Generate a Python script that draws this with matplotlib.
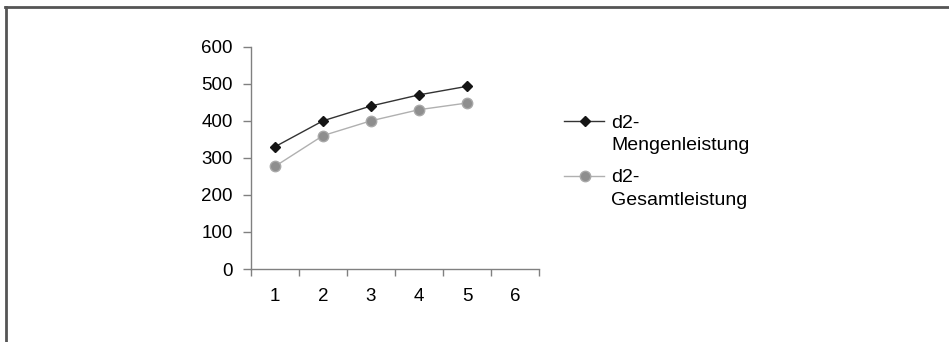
import matplotlib
matplotlib.use("Agg")
import matplotlib.pyplot as plt
from matplotlib.lines import Line2D

categories = [1, 2, 3, 4, 5, 6]
x_points = [1, 2, 3, 4, 5]
mengen = [330, 400, 440, 470, 493]
gesamt = [277, 360, 400, 430, 448]
labels = ["d2-\nMengenleistung", "d2-\nGesamtleistung"]
yticks = [0, 100, 200, 300, 400, 500, 600]

plt.rcParams['font.family'] = ['Liberation Sans', 'DejaVu Sans']

fig = plt.figure(figsize=(9.49, 3.42), dpi=100)
ax = fig.add_axes([251/949, 73/342, (539-251)/949, (269-46.7)/342])

black_style = dict(color='#333333', lw=1, marker='D', ms=5.5, mfc='#151515', mec='#151515')
gray_style = dict(color='#b0b0b0', lw=1, marker='o', ms=7.5, mfc='#8e8e8e', mec='#a8a8a8')

ax.plot(x_points, gesamt, zorder=3, **gray_style)
ax.plot(x_points, mengen, zorder=4, **black_style)

ax.set_xlim(0.5, 6.5)
ax.set_ylim(0, 600)
ax.set_yticks(yticks)
ax.set_xticks([c - 0.5 for c in categories] + [6.5])
ax.set_xticklabels([])
ax.set_xticks(categories, minor=True)
ax.set_xticklabels([str(c) for c in categories], minor=True)
ax.tick_params(axis='x', which='minor', length=0, pad=14, labelsize=13.5)
ax.tick_params(axis='x', which='major', length=5, width=1, color='#808080')
ax.tick_params(axis='y', length=6, width=1, color='#808080', pad=7, labelsize=13.5)
for s in ['top', 'right']:
    ax.spines[s].set_visible(False)
for s in ['left', 'bottom']:
    ax.spines[s].set_color('#808080')
    ax.spines[s].set_linewidth(1)

def fx(px):
    return px / 949
def fy(py):
    return 1 - py / 342

# legend drawn in figure coordinates
for (ly, style, lab, ty) in [(121, black_style, labels[0], 134.5),
                              (176, gray_style, labels[1], 189)]:
    ln = {k: v for k, v in style.items() if k not in ('marker', 'ms', 'mfc', 'mec')}
    fig.add_artist(Line2D([fx(564), fx(604)], [fy(ly), fy(ly)], **ln))
    fig.add_artist(Line2D([fx(585)], [fy(ly)], lw=0, marker=style['marker'], ms=style['ms'],
                          mfc=style['mfc'], mec=style['mec']))
    fig.text(fx(611), fy(ty), lab, fontsize=14, va='center', ha='left', linespacing=1.45)

# outer frame (top and left visible)
fig.add_artist(Line2D([fx(5), 1], [fy(7), fy(7)], color='#555555', lw=2))
fig.add_artist(Line2D([fx(6), fx(6)], [fy(7), 0], color='#555555', lw=2))

fig.savefig('out.png', dpi=100)
